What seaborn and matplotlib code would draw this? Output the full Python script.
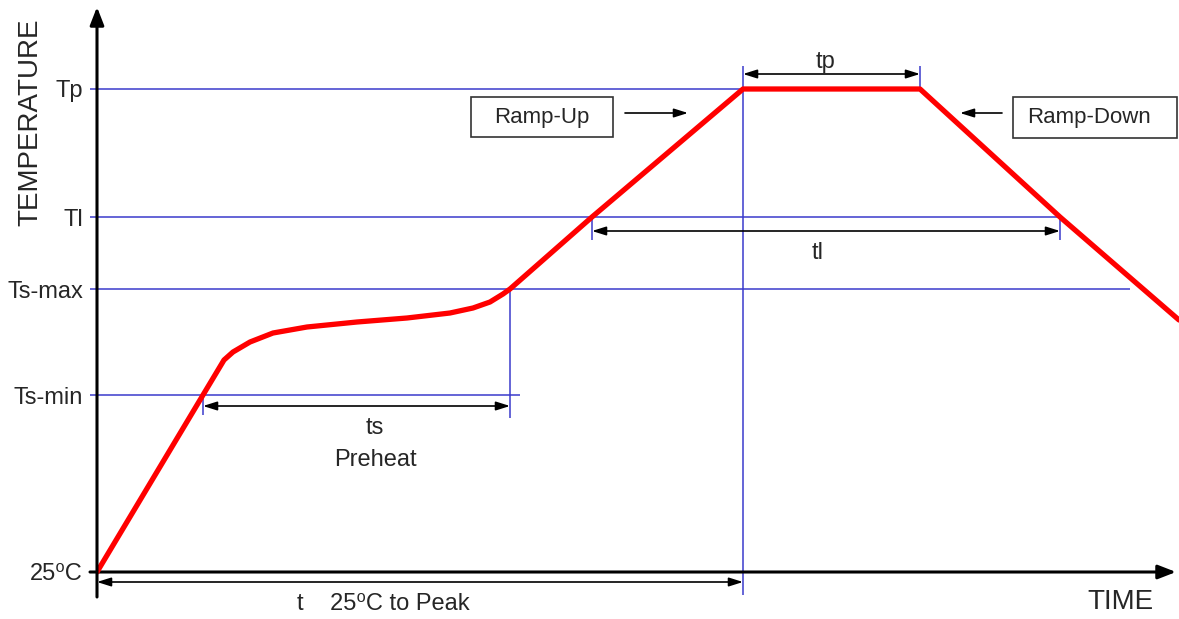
import matplotlib
matplotlib.use("Agg")
import matplotlib.pyplot as plt
import seaborn as sns
import pandas as pd
from matplotlib.patches import Rectangle

sns.set_theme(style="white")
plt.rcParams['font.family'] = ['Liberation Sans', 'DejaVu Sans']

# ---- data (time units and temperature units, relative to 25C start) ----
level_names = ['25⁰C', 'Ts-min', 'Ts-max', 'Tl', 'Tp']
level_values = [0, 177, 283, 355, 483]

profile_time = [0, 106, 127, 136, 153, 176, 210, 260, 310, 353, 376, 393, 406, 413,
                495, 646, 823, 963, 1082]
profile_temp = [0, 177, 212, 220, 230, 239, 245, 250, 254, 259, 264, 270, 278, 283,
                355, 483, 483, 355, 252]

t_smin, t_smax, t_l, t_pstart, t_pend, t_lend = 106, 413, 495, 646, 823, 963
T25, Tsmin, Tsmax, Tl, Tp = level_values

df = pd.DataFrame({'time': profile_time, 'temp': profile_temp})

W, H = 1179, 619
fig = plt.figure(figsize=(W / 100, H / 100), dpi=100)
ax = fig.add_axes([97 / W, 0, (W - 97) / W, 1])
ax.set_xlim(0, W - 97)
ax.set_ylim(572 - H, 572)
for s in ax.spines.values():
    s.set_visible(False)

blue = '#3a3acc'
txt = '#262626'

# horizontal reference lines
ax.hlines([Tp, Tl, Tsmax, Tsmin], xmin=-7, xmax=[t_pstart, t_lend, 1033, 423],
          color=blue, lw=1.1, clip_on=False, zorder=2)
# vertical reference lines
ax.vlines(t_pstart, -23, 506, color=blue, lw=1.1, zorder=2)
ax.vlines(t_pend, Tp, 506, color=blue, lw=1.1, zorder=2)
ax.vlines(t_smax, 154, Tsmax, color=blue, lw=1.1, zorder=2)
ax.vlines(t_smin, 157, Tsmin, color=blue, lw=1.1, zorder=2)
ax.vlines([t_l, t_lend], 332, Tl, color=blue, lw=1.1, zorder=2)

# profile
sns.lineplot(data=df, x='time', y='temp', sort=False, estimator=None,
             color='#ff0000', lw=3.8, ax=ax, zorder=5,
             solid_joinstyle='round', solid_capstyle='round')
ax.set_xlabel('')
ax.set_ylabel('')

# axes arrows
ax.annotate('', xy=(0, 565), xytext=(0, -25), annotation_clip=False,
            arrowprops=dict(arrowstyle='-|>,head_length=0.9,head_width=0.35', color='black', lw=2.2,
                            shrinkA=0, shrinkB=0), zorder=6)
ax.annotate('', xy=(1079, 0), xytext=(-7, 0), annotation_clip=False,
            arrowprops=dict(arrowstyle='-|>,head_length=0.9,head_width=0.35', color='black', lw=2.2,
                            shrinkA=0, shrinkB=0), zorder=4)

# dimension arrows
def dim(x0, x1, y):
    ax.annotate('', xy=(x1, y), xytext=(x0, y), annotation_clip=False,
                arrowprops=dict(arrowstyle='<|-|>,head_length=0.7,head_width=0.22', color='black', lw=1.2,
                                shrinkA=0, shrinkB=0), zorder=6)

dim(t_pstart, t_pend, 498)
dim(t_l, t_lend, 341)
dim(t_smin, t_smax, 166)
dim(0, t_pstart, -10)

# ticks / labels
ax.set_xticks([])
ax.set_yticks(level_values)
ax.set_yticklabels(level_names, fontsize=17, color=txt)
ax.tick_params(axis='y', length=0, pad=10)

fs = 16
ax.text(728, 510, 'tp', ha='center', va='center', fontsize=17, color=txt)
ax.text(721, 319, 'tl', ha='center', va='center', fontsize=17, color=txt)
ax.text(278, 144, 'ts', ha='center', va='center', fontsize=17, color=txt)
ax.text(278, 112, 'Preheat', ha='center', va='center', fontsize=17, color=txt)
ax.text(286, -32, 't    25⁰C to Peak', ha='center', va='center', fontsize=17, color=txt)
ax.text(1023, -30, 'TIME', ha='center', va='center', fontsize=20, color=txt)
ax.text(-67, 450, 'TEMPERATURE', ha='center', va='center', rotation=90,
        fontsize=20, color=txt, clip_on=False)

# ramp boxes
ax.add_patch(Rectangle((374, 435), 142, 40, fill=False, ec='#333333', lw=1.2, zorder=6))
ax.text(445, 455, 'Ramp-Up', ha='center', va='center', fontsize=fs, color=txt)
ax.add_patch(Rectangle((916, 434), 164, 41, fill=False, ec='#333333', lw=1.2, zorder=6,
                       clip_on=False))
ax.text(992, 454, 'Ramp-Down', ha='center', va='center', fontsize=fs, color=txt)

ax.annotate('', xy=(591, 459), xytext=(528, 459),
            arrowprops=dict(arrowstyle='-|>,head_length=0.7,head_width=0.22', color='black', lw=1.2,
                            shrinkA=0, shrinkB=0))
ax.annotate('', xy=(863, 459), xytext=(905, 459),
            arrowprops=dict(arrowstyle='-|>,head_length=0.7,head_width=0.22', color='black', lw=1.2,
                            shrinkA=0, shrinkB=0))

fig.savefig('out.png', dpi=100, facecolor='white')
